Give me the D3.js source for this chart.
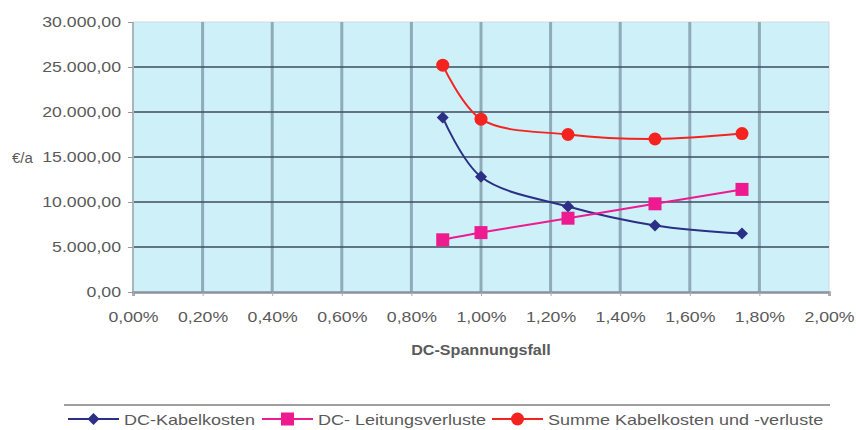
<!DOCTYPE html>
<html>
<head>
<meta charset="utf-8">
<script src="https://cdn.jsdelivr.net/npm/d3@7"></script>
<style>
  html, body { margin: 0; padding: 0; background: #fff; }
  svg { display: block; }
  text { font-family: "Liberation Sans", Arial, sans-serif; fill: #5a5a5a; }
</style>
</head>
<body>
<svg id="chart" width="856" height="430"></svg>
<script>
// Spannungsfall in Prozent (x-Werte der Messpunkte)
const spannungsfall = [0.89, 1.00, 1.25, 1.50, 1.75];
// Jahreskosten in €/a
const kabelkosten = [19400, 12800, 9500, 7400, 6500];
const leitungsverluste = [5800, 6600, 8200, 9800, 11400];
const summe = [25200, 19200, 17500, 17000, 17600];

const xTicks = [0, 0.2, 0.4, 0.6, 0.8, 1.0, 1.2, 1.4, 1.6, 1.8, 2.0];
const yTicks = [0, 5000, 10000, 15000, 20000, 25000, 30000];

const seriesNames = ["DC-Kabelkosten", "DC- Leitungsverluste", "Summe Kabelkosten und -verluste"];

const de = d3.formatLocale({ decimal: ",", thousands: ".", grouping: [3], currency: ["", "€"] });
const fmtY = de.format(",.2f");
const fmtX = d => de.format(".2f")(d) + "%";

const svg = d3.select("#chart");
const plot = { left: 133, right: 829, top: 22, bottom: 292 };

const x = d3.scaleLinear().domain([0, 2]).range([plot.left, plot.right]);
const y = d3.scaleLinear().domain([0, 30000]).range([plot.bottom, plot.top]);

// stretch text a little horizontally
function widen(sel, k) {
  sel.each(function () {
    const len = this.getComputedTextLength();
    d3.select(this).attr("textLength", len * k).attr("lengthAdjust", "spacingAndGlyphs");
  });
}

// plot background
svg.append("rect")
  .attr("x", plot.left).attr("y", plot.top)
  .attr("width", plot.right - plot.left).attr("height", plot.bottom - plot.top)
  .attr("fill", "#cdf0f9").attr("stroke", "#d3d9dc").attr("stroke-width", 1);

// vertical grid
svg.append("g").selectAll("line").data(xTicks.slice(1, -1)).join("line")
  .attr("x1", d => x(d)).attr("x2", d => x(d))
  .attr("y1", plot.top).attr("y2", plot.bottom)
  .attr("stroke", "#90abb8").attr("stroke-width", 3);

// horizontal grid
svg.append("g").selectAll("line").data(yTicks.slice(1, -1)).join("line")
  .attr("x1", plot.left).attr("x2", plot.right)
  .attr("y1", d => y(d)).attr("y2", d => y(d))
  .attr("stroke", "#3d4c5c").attr("stroke-width", 1.4);

// left axis line
svg.append("line")
  .attr("x1", plot.left).attr("x2", plot.left)
  .attr("y1", plot.top).attr("y2", plot.bottom)
  .attr("stroke", "#a9b6bd").attr("stroke-width", 2);

// y axis
const yAxis = svg.append("g")
  .attr("transform", `translate(${plot.left},0)`)
  .call(d3.axisLeft(y).tickValues(yTicks).tickFormat(fmtY).tickSize(5).tickPadding(7));
yAxis.select(".domain").remove();
yAxis.selectAll(".tick line").attr("stroke", "#999");
yAxis.selectAll("text").attr("font-size", 15).attr("fill", "#5a5a5a")
  .style("font-family", "'Liberation Sans', Arial, sans-serif").call(widen, 1.18);

// x axis
const xAxis = svg.append("g")
  .attr("transform", `translate(0,${plot.bottom})`)
  .call(d3.axisBottom(x).tickValues(xTicks).tickFormat(fmtX).tickSize(4).tickPadding(15));
xAxis.select(".domain").attr("stroke", "#8b949a").attr("stroke-width", 2.5);
xAxis.selectAll(".tick line").attr("stroke", "#aaa");
xAxis.selectAll("text").attr("font-size", 15).attr("fill", "#5a5a5a")
  .style("font-family", "'Liberation Sans', Arial, sans-serif").call(widen, 1.18);

// axis titles
svg.append("text")
  .attr("x", (plot.left + plot.right) / 2).attr("y", 355)
  .attr("text-anchor", "middle").attr("font-size", 14).attr("font-weight", "bold")
  .attr("fill", "#444").text("DC-Spannungsfall").call(widen, 1.15);

svg.append("text")
  .attr("x", 12).attr("y", 163)
  .attr("font-size", 15).attr("fill", "#5a5a5a").text("€/a");

// series
const series = [
  { name: seriesNames[0], values: kabelkosten, color: "#2b2f86", marker: "diamond" },
  { name: seriesNames[1], values: leitungsverluste, color: "#ee1a90", marker: "square" },
  { name: seriesNames[2], values: summe, color: "#f5231f", marker: "circle" }
];

const line = d3.line().x(d => x(d[0])).y(d => y(d[1])).curve(d3.curveCatmullRom.alpha(0.5));

function drawMarker(g, type, color) {
  if (type === "diamond") {
    g.append("path").attr("d", "M0,-6L6,0L0,6L-6,0Z").attr("fill", color);
  } else if (type === "square") {
    g.append("rect").attr("x", -6.5).attr("y", -6.5).attr("width", 13).attr("height", 13).attr("fill", color);
  } else {
    g.append("circle").attr("r", 6.5).attr("fill", color);
  }
}

series.forEach(s => {
  const pts = spannungsfall.map((v, i) => [v, s.values[i]]);
  svg.append("path").attr("d", line(pts))
    .attr("fill", "none").attr("stroke", s.color).attr("stroke-width", 2);
  pts.forEach(p => {
    const g = svg.append("g").attr("transform", `translate(${x(p[0])},${y(p[1])})`);
    drawMarker(g, s.marker, s.color);
  });
});

// legend
svg.append("line").attr("x1", 64).attr("x2", 830).attr("y1", 405).attr("y2", 405)
  .attr("stroke", "#a0a0a0").attr("stroke-width", 2);

const legendX = [68, 262, 492];
series.forEach((s, i) => {
  const g = svg.append("g").attr("transform", `translate(${legendX[i]},419)`);
  g.append("line").attr("x1", 0).attr("x2", 51).attr("y1", 0).attr("y2", 0)
    .attr("stroke", s.color).attr("stroke-width", 2);
  const m = g.append("g").attr("transform", "translate(25.5,0)");
  drawMarker(m, s.marker, s.color);
  g.append("text").attr("x", 56).attr("y", 6).attr("font-size", 15).attr("fill", "#5a5a5a")
    .text(s.name).call(widen, 1.2);
});
</script>
</body>
</html>
